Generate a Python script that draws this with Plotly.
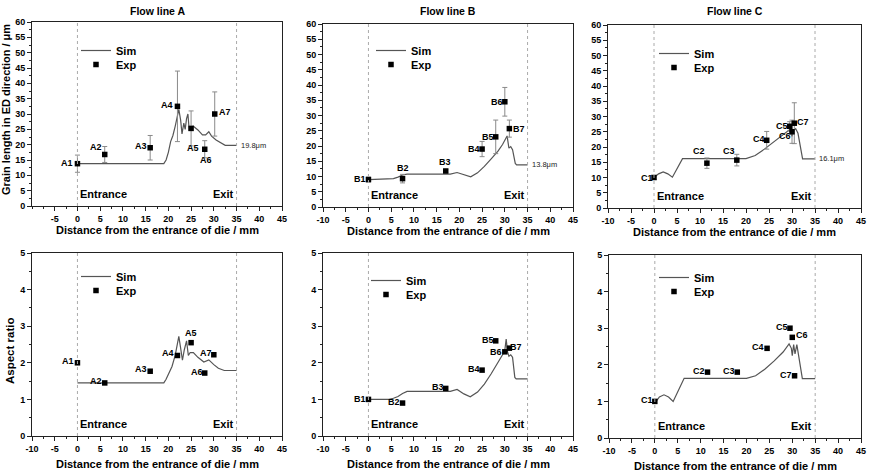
import plotly.graph_objects as go

# ---------------- DATA ----------------
ENTRANCE = 0
EXIT = 35
panel_titles = ["Flow line A", "Flow line B", "Flow line C"]
y_title_top = "Grain length in ED direction / μm"
y_title_bottom = "Aspect ratio"
x_title = "Distance from the entrance of die / mm"

# Grain length (top row)
simA_x = [0, 19, 19.5, 20, 20.5, 21, 21.5, 22, 22.3, 22.7, 23.0, 23.4, 23.7, 24.0, 24.3, 24.6, 25.0, 25.5, 26.5, 27.5, 28.2, 28.9, 29.5, 30.5, 31.5, 32.5, 35]
simA_y = [13.8, 13.8, 15, 17.5, 21, 23, 26, 30, 31.5, 28, 23.5, 27, 25, 28.5, 30, 24.5, 25.8, 26, 24.8, 23.2, 23.2, 24.2, 22.8, 21.5, 20.5, 19.8, 19.8]
simB_x = [0, 4.5, 5.5, 6.5, 7.5, 8.5, 18, 19.5, 21, 22.5, 24, 25.5, 27, 28.5, 29.5, 30.2, 30.5, 30.9, 31.3, 31.7, 32.3, 32.6, 35]
simB_y = [9, 9.1, 9.3, 9.8, 10.5, 10.8, 10.8, 11.3, 10.5, 9.9, 11.2, 13.3, 15.8, 18.3, 20.5, 22.5, 23.3, 19.3, 19.8, 18.8, 14.3, 13.8, 13.8]
simC_x = [0, 1, 2, 3, 4, 5, 6.2, 20, 22, 24, 26, 28, 29.3, 29.6, 30.0, 30.4, 30.8, 31.3, 31.8, 32.3, 35]
simC_y = [10, 11.2, 11.8, 11.2, 10.1, 13, 16.2, 16.2, 17.2, 19.3, 21.6, 24.0, 25.5, 25.0, 23.5, 25.5, 26.0, 24.5, 19.5, 16.1, 16.1]

expA_lbl = ["A1", "A2", "A3", "A4", "A5", "A6", "A7"]
expA_x = [0, 6, 16, 22, 25, 28, 30.2]
expA_y = [13.8, 16.8, 19.0, 32.5, 25.3, 18.5, 30.0]
expA_err = [2.8, 2.6, 4.0, 11.5, 5.7, 2.8, 7.2]
expB_lbl = ["B1", "B2", "B3", "B4", "B5", "B6", "B7"]
expB_x = [0, 7.5, 17, 25, 28, 30, 31]
expB_y = [9.0, 9.3, 11.8, 19.0, 23.0, 34.5, 25.7]
expB_err = [0.8, 1.4, 0.6, 2.5, 5.5, 4.7, 2.8]
expC_lbl = ["C1", "C2", "C3", "C4", "C5", "C6", "C7"]
expC_x = [0, 11.5, 18, 24.5, 29.5, 30, 30.5]
expC_y = [10.0, 14.7, 15.7, 22.2, 26.8, 25.0, 27.8]
expC_err = [0.6, 1.7, 1.9, 2.9, 1.5, 3.8, 6.7]
final_grain = ["19.8μm", "13.8μm", "16.1μm"]

# Aspect ratio (bottom row)
arA_x = [0, 19, 19.5, 20, 20.8, 21.5, 22.0, 22.3, 22.7, 23.1, 23.5, 24.0, 24.4, 24.8, 25.5, 26.5, 27.8, 28.9, 30, 31, 32.3, 35]
arA_y = [1.45, 1.45, 1.55, 1.7, 1.9, 2.2, 2.5, 2.72, 2.4, 2.07, 2.35, 2.6, 2.2, 2.28, 2.28, 2.15, 2.02, 2.08, 1.95, 1.85, 1.79, 1.79]
arB_x = [0, 4.5, 5.5, 6.5, 7.5, 8.5, 18, 19.5, 21, 22.4, 24, 25.5, 27, 28.5, 29.5, 30.0, 30.3, 30.6, 30.9, 31.3, 31.7, 32.2, 32.5, 35]
arB_y = [1.0, 1.0, 1.03, 1.08, 1.16, 1.22, 1.22, 1.27, 1.15, 1.07, 1.2, 1.42, 1.7, 2.0, 2.22, 2.35, 2.65, 2.3, 2.18, 2.22, 2.15, 1.6, 1.56, 1.56]
arC_x = [0, 1, 2, 3, 4, 5, 6.4, 20, 22, 24, 26, 28, 29.3, 29.8, 30.0, 30.3, 30.6, 31.0, 31.5, 32.2, 35]
arC_y = [0.95, 1.12, 1.18, 1.12, 1.0, 1.25, 1.63, 1.63, 1.7, 1.88, 2.1, 2.35, 2.57, 2.45, 2.25, 2.55, 2.3, 2.55, 2.2, 1.62, 1.62]

arA_expx = [0, 6, 16, 22, 25, 28, 30]
arA_expy = [2.0, 1.45, 1.77, 2.2, 2.55, 1.72, 2.22]
arB_expx = [0, 7.5, 17, 25, 28, 30, 31]
arB_expy = [1.0, 0.9, 1.3, 1.8, 2.6, 2.3, 2.4]
arC_expx = [0, 11.5, 18, 24.5, 29.5, 30, 30.5]
arC_expy = [1.0, 1.8, 1.8, 2.45, 3.0, 2.75, 1.7]

# ---------------- STYLE / LAYOUT ----------------
W, H = 869, 476
FONT = "Liberation Sans, Arial, sans-serif"
# pixel boxes (left, right, top, bottom)
boxes = [(32, 282, 22, 206), (323, 573, 24, 207), (608, 861, 25, 208),
         (32, 282, 253, 436), (323, 573, 253, 436), (609, 861, 255, 438)]
# label offsets (dx, dy) in px, dy positive downward
off_top = [
    [(-10, -1), (-9, -7), (-9, -2), (-10, -1), (2, 20), (1, 11), (10, -2)],
    [(-8, -1), (0, -11), (-1, -9), (-8, 0), (-8, 0), (-8, 0), (10, 0)],
    [(-7, 0), (-8, -12), (-8, -9), (-8, -1), (-8, 0), (-7, 4), (9, -1)],
]
off_bot = [
    [(-9, -2), (-9, -2), (-9, -2), (-9, -2), (0, -10), (-8, -1), (-8, -2)],
    [(-8, 0), (-9, -1), (-8, -1), (-8, -1), (-8, -1), (-9, 0), (7, -1)],
    [(-8, -1), (-9, -1), (-8, -1), (-9, -1), (-8, -1), (10, -2), (-9, -1)],
]
# legend: (text start x, Sim centre y, Exp centre y) in px
legend_pos = [(120, 53, 67), (415, 53, 67), (698, 56, 70),
              (120, 279, 293), (410, 283, 297), (698, 280, 294)]

sims = [(simA_x, simA_y), (simB_x, simB_y), (simC_x, simC_y),
        (arA_x, arA_y), (arB_x, arB_y), (arC_x, arC_y)]
exps = [(expA_x, expA_y, expA_err), (expB_x, expB_y, expB_err), (expC_x, expC_y, expC_err),
        (arA_expx, arA_expy, None), (arB_expx, arB_expy, None), (arC_expx, arC_expy, None)]
lbls = [expA_lbl, expB_lbl, expC_lbl, expA_lbl, expB_lbl, expC_lbl]
offs = off_top + off_bot

fig = go.Figure()
layout = dict(width=W, height=H, margin=dict(l=0, r=0, t=0, b=0),
              paper_bgcolor="white", plot_bgcolor="white",
              font=dict(family=FONT, color="black"), showlegend=True)
annotations = []
shapes = []


def legend_box(xt, yc):
    return dict(x=(xt - 44) / W, y=1 - (yc - 17) / H, xanchor="left", yanchor="top",
                bgcolor="rgba(0,0,0,0)", borderwidth=0,
                font=dict(size=11, family=FONT, weight="bold", color="black"),
                itemwidth=30, tracegroupgap=0)


for i in range(6):
    n = "" if i == 0 else str(i + 1)
    xa, ya = "x" + n, "y" + n
    lg_sim = "legend" + ("" if i == 0 else str(2 * i + 1))
    lg_exp = "legend" + str(2 * i + 2)
    l, r, t, b = boxes[i]
    top = i < 3
    xticks = list(range(-5 if i == 0 else -10, 50, 5))
    layout["xaxis" + n] = dict(
        domain=[l / W, r / W], anchor=ya, range=[-10, 45],
        tickvals=xticks, ticktext=[str(v) for v in xticks],
        ticks="outside", ticklen=4, tickwidth=1, tickcolor="#222",
        minor=dict(ticks="outside", ticklen=2, tickcolor="#222", dtick=2.5, tick0=0, showgrid=False),
        showline=True, linecolor="#222", linewidth=1, mirror=True,
        showgrid=False, zeroline=False,
        tickfont=dict(size=9, family=FONT, weight="bold", color="black"),
        automargin=False)
    layout["yaxis" + n] = dict(
        domain=[1 - b / H, 1 - t / H], anchor=xa,
        range=[0, 60] if top else [0, 5], dtick=5 if top else 1, tick0=0,
        ticks="outside", ticklen=4, tickwidth=1, tickcolor="#222",
        minor=dict(ticks="outside", ticklen=2, tickcolor="#222",
                   dtick=2.5 if top else 0.5, tick0=0, showgrid=False),
        showline=True, linecolor="#222", linewidth=1, mirror=True,
        showgrid=False, zeroline=False,
        tickfont=dict(size=9, family=FONT, weight="bold", color="black"),
        automargin=False)

    sx, sy = sims[i]
    fig.add_trace(go.Scatter(x=sx, y=sy, mode="lines", name="Sim",
                             line=dict(color="#555555", width=1.2),
                             xaxis=xa, yaxis=ya, legend=lg_sim))
    ex, ey, ee = exps[i]
    err = dict(type="data", array=ee, visible=True, color="#8a8a8a",
               thickness=1, width=2.5) if ee is not None else None
    fig.add_trace(go.Scatter(x=ex, y=ey, mode="markers", name="Exp",
                             marker=dict(symbol="square", size=5.5, color="black"),
                             error_y=err, xaxis=xa, yaxis=ya, legend=lg_exp))

    xt, ys, ye = legend_pos[i]
    layout[lg_sim] = legend_box(xt, ys)
    layout[lg_exp] = legend_box(xt, ye)

    # labels
    for k, lab in enumerate(lbls[i]):
        dx, dy = offs[i][k]
        annotations.append(dict(x=ex[k], y=ey[k], xref=xa, yref=ya, text="<b>%s</b>" % lab,
                                showarrow=False, xanchor="center", yanchor="middle",
                                xshift=dx, yshift=-dy,
                                font=dict(size=9, family=FONT, color="black")))
    # entrance / exit lines
    for xv in (ENTRANCE, EXIT):
        shapes.append(dict(type="line", xref=xa, yref=ya + " domain", x0=xv, x1=xv, y0=0, y1=1,
                           line=dict(color="#aaaaaa", width=1, dash="dot")))
    annotations.append(dict(x=ENTRANCE, y=0.065, xref=xa, yref=ya + " domain", text="<b>Entrance</b>",
                            showarrow=False, xanchor="left", yanchor="middle", xshift=1,
                            font=dict(size=11, family=FONT, color="black")))
    annotations.append(dict(x=EXIT, y=0.065, xref=xa, yref=ya + " domain", text="<b>Exit</b>",
                            showarrow=False, xanchor="right", yanchor="middle", xshift=-1,
                            font=dict(size=11, family=FONT, color="black")))
    # x title
    annotations.append(dict(x=(l + r) / 2 / W, y=1 - (b + (24 if top else 28)) / H,
                            xref="paper", yref="paper",
                            text="<b>%s</b>" % x_title, showarrow=False,
                            xanchor="center", yanchor="middle",
                            font=dict(size=11, family=FONT, color="black")))
    if top:
        annotations.append(dict(x=(l + r) / 2 / W, y=1 - 11 / H, xref="paper", yref="paper",
                                text="<b>%s</b>" % panel_titles[i], showarrow=False,
                                xanchor="center", yanchor="middle",
                                font=dict(size=10.5, family=FONT, color="black")))
        annotations.append(dict(x=EXIT, y=sy[-1], xref=xa, yref=ya, text=final_grain[i],
                                showarrow=False, xanchor="left", yanchor="middle", xshift=2,
                                font=dict(size=7.5, family=FONT, color="#222")))

annotations.append(dict(x=6 / W, y=1 - 110 / H, xref="paper", yref="paper",
                        text="<b>%s</b>" % y_title_top, showarrow=False, textangle=-90,
                        xanchor="center", yanchor="middle",
                        font=dict(size=11, family=FONT, color="black")))
annotations.append(dict(x=10 / W, y=1 - 351 / H, xref="paper", yref="paper",
                        text="<b>%s</b>" % y_title_bottom, showarrow=False, textangle=-90,
                        xanchor="center", yanchor="middle",
                        font=dict(size=11.5, family=FONT, color="black")))

layout["annotations"] = annotations
layout["shapes"] = shapes
fig.update_layout(**layout)
fig.write_html("out.html")
